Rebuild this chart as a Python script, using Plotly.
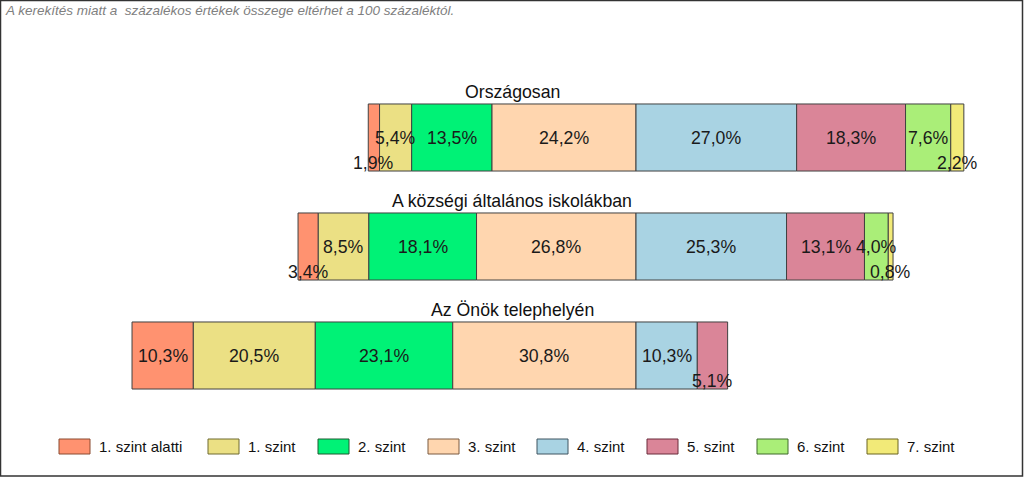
import plotly.graph_objects as go
import numpy as np

# ---------------- data ----------------
groups = ["Országosan", "A községi általános iskolákban", "Az Önök telephelyén"]
levels = ["1. szint alatti", "1. szint", "2. szint", "3. szint",
          "4. szint", "5. szint", "6. szint", "7. szint"]
orszagosan = [1.9, 5.4, 13.5, 24.2, 27.0, 18.3, 7.6, 2.2]
kozsegi = [3.4, 8.5, 18.1, 26.8, 25.3, 13.1, 4.0, 0.8]
telephely = [10.3, 20.5, 23.1, 30.8, 10.3, 5.1, None, None]
note = "A kerekítés miatt a  százalékos értékek összege eltérhet a 100 százaléktól."

# ---------------- style ----------------
fills = ["#FF9270", "#EBE084", "#00F276", "#FFD6AF",
         "#A9D3E3", "#DA8598", "#AAEE78", "#F2EA78"]
edges = ["#8a4a30", "#6f6a30", "#1f5a30", "#7a5a40",
         "#3f5560", "#6a2a3a", "#3f6a2a", "#6a6420"]
FONT = "Liberation Sans, Arial, sans-serif"
W, H = 1024, 478
ZERO_PX = 636.0      # pixel of the 3./4. szint boundary
PPU = 5.95           # pixels per percent
ROW0_PX, ROW_STEP = 137.5, 109.0
BAR_W = 0.615
below = {(0, 0), (0, 7), (1, 0), (1, 7), (2, 5)}   # labels drawn under the bar

series = [orszagosan, kozsegi, telephely]
vals = np.array([[np.nan if v is None else v for v in s] for s in series])
left = -np.nansum(vals[:, :4], axis=1)
filled = np.nan_to_num(vals)
bases = left[:, None] + np.cumsum(filled, axis=1) - filled

fig = go.Figure()
for j, lev in enumerate(levels):
    xs, ys, bs = [], [], []
    for g in range(len(groups)):
        if not np.isnan(vals[g, j]):
            xs.append(vals[g, j]); ys.append(groups[g]); bs.append(bases[g, j])
    fig.add_trace(go.Bar(
        x=xs, y=ys, base=bs, orientation="h", name=lev, width=BAR_W,
        marker=dict(color=fills[j], line=dict(color="#404040", width=1)),
        showlegend=False, hoverinfo="skip"))

annotations = []
for g in range(len(groups)):
    for j in range(len(levels)):
        v = vals[g, j]
        if np.isnan(v):
            continue
        annotations.append(dict(
            x=bases[g, j] + v / 2, y=groups[g], xref="x", yref="y",
            text=f"{v:.1f}%".replace(".", ","), showarrow=False,
            yshift=-25 if (g, j) in below else 0,
            font=dict(family=FONT, size=17.7, color="#1a1a1a")))
    annotations.append(dict(
        x=0.5, xref="paper", y=groups[g], yref="y", yshift=46,
        text=groups[g], showarrow=False,
        font=dict(family=FONT, size=17.7, color="#111111")))

annotations.append(dict(
    x=3 / W, xref="paper", xanchor="left", y=1 - 10.5 / H, yref="paper",
    yanchor="middle", text=f"<i>{note}</i>", showarrow=False,
    font=dict(family=FONT, size=13.5, color="#808080")))

shapes = []
leg_x = [59, 208, 318, 428, 537, 647, 757, 867]
for j, lev in enumerate(levels):
    x0 = leg_x[j]
    shapes.append(dict(type="rect", xref="paper", yref="paper",
                       x0=x0 / W, x1=(x0 + 31) / W,
                       y0=1 - 439 / H, y1=1 - 454 / H,
                       fillcolor=fills[j], line=dict(color=edges[j], width=1)))
    annotations.append(dict(
        x=(x0 + 38) / W, xref="paper", xanchor="left",
        y=1 - 446.5 / H, yref="paper", yanchor="middle",
        text=lev, showarrow=False,
        font=dict(family=FONT, size=15, color="#111111")))

shapes.append(dict(type="rect", xref="paper", yref="paper",
                   x0=0.5 / W, x1=1022.5 / W, y0=1 - 0.5 / H, y1=1 - 476 / H,
                   line=dict(color="#333333", width=1.5), fillcolor="rgba(0,0,0,0)"))

fig.update_layout(
    width=W, height=H, margin=dict(l=0, r=0, t=0, b=0, pad=0),
    paper_bgcolor="white", plot_bgcolor="white", barmode="overlay",
    xaxis=dict(range=[-ZERO_PX / PPU, (W - ZERO_PX) / PPU], visible=False,
               fixedrange=True),
    yaxis=dict(type="category", categoryarray=groups, categoryorder="array",
               range=[(H - ROW0_PX) / ROW_STEP, -ROW0_PX / ROW_STEP],
               visible=False, fixedrange=True),
    annotations=annotations, shapes=shapes, showlegend=False,
    font=dict(family=FONT))

fig.write_html("out.html")
